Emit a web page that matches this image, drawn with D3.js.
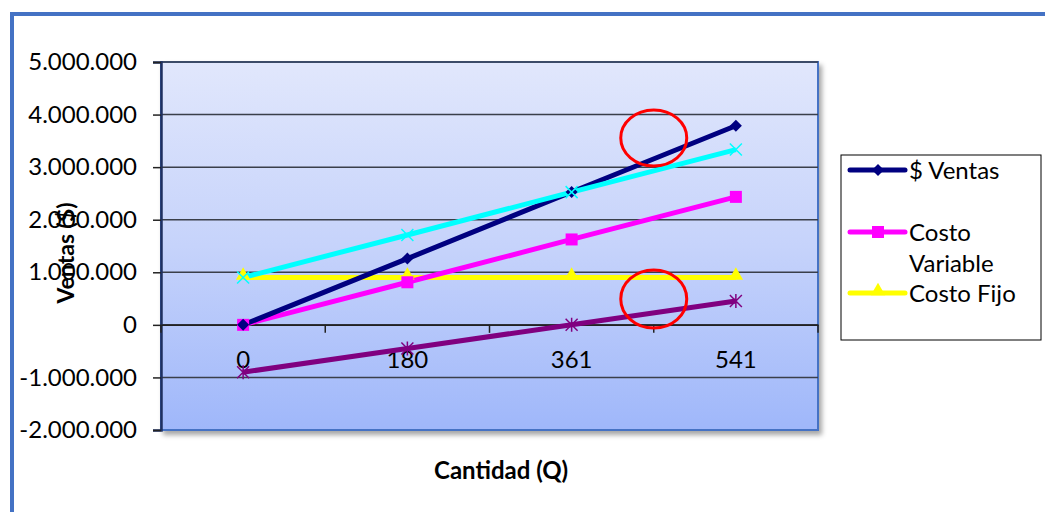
<!DOCTYPE html>
<html><head><meta charset="utf-8">
<script src="https://cdn.jsdelivr.net/npm/d3@7"></script>
<style>body{margin:0;background:#fff;} svg{display:block;}</style>
</head><body>
<svg id="c" width="1045" height="512"></svg>
<script>
const categories = ["0", "180", "361", "541"];
const ventas = [0, 1260000, 2527000, 3787000];
const costoVariable = [0, 810000, 1624500, 2434500];
const costoFijo = [900000, 900000, 900000, 900000];
const costoTotal = [900000, 1710000, 2524500, 3334500];
const utilidad = [-900000, -450000, 2500, 452500];
const yTicks = [-2000000, -1000000, 0, 1000000, 2000000, 3000000, 4000000, 5000000];
const legendLabels = [["$ Ventas"], ["Costo", "Variable"], ["Costo Fijo"]];

const svg = d3.select("#c");
const font = "Lato, 'Open Sans', sans-serif";
const L = 161, R = 818, T = 62, B = 430;

const defs = svg.append("defs");
const g = defs.append("linearGradient").attr("id", "bg").attr("x1", 0).attr("x2", 0).attr("y1", 0).attr("y2", 1);
g.append("stop").attr("offset", "0%").attr("stop-color", "#e1e7fc");
g.append("stop").attr("offset", "50%").attr("stop-color", "#c6d3fb");
g.append("stop").attr("offset", "100%").attr("stop-color", "#9fb7fa");
const f = defs.append("filter").attr("id", "sh").attr("x", "-5%").attr("y", "-5%").attr("width", "115%").attr("height", "115%");
f.append("feDropShadow").attr("dx", 3).attr("dy", 4).attr("stdDeviation", 2.5).attr("flood-color", "#000").attr("flood-opacity", 0.35);

// outer frame
svg.append("rect").attr("x", 12).attr("y", 14).attr("width", 1100).attr("height", 600)
  .attr("fill", "none").attr("stroke", "#4472c4").attr("stroke-width", 4);

const x = d3.scaleBand().domain(categories).range([L, R]);
const y = d3.scaleLinear().domain([-2000000, 5000000]).range([B, T]);

// plot area
svg.append("rect").attr("x", L).attr("y", T).attr("width", R - L).attr("height", B - T)
  .attr("fill", "url(#bg)").attr("stroke", "#4472c4").attr("stroke-width", 2).attr("filter", "url(#sh)");

// gridlines
svg.append("g").selectAll("line").data(yTicks.filter(d => d !== -2000000)).join("line")
  .attr("x1", L).attr("x2", R).attr("y1", d => y(d)).attr("y2", d => y(d))
  .attr("stroke", "#3a3f4a").attr("stroke-width", 1.5);

// y axis
const fmt = d => d3.format(",")(d).replace(/,/g, ".").replace("−", "-");
const yAxis = svg.append("g").attr("transform", `translate(${L},0)`)
  .call(d3.axisLeft(y).tickValues(yTicks).tickSize(8).tickPadding(16).tickFormat(fmt));
yAxis.select(".domain").attr("stroke", "#1f3060").attr("stroke-width", 2.5);
yAxis.selectAll(".tick line").attr("stroke", "#222").attr("stroke-width", 1.5);
yAxis.selectAll("text").attr("font-family", font).attr("font-size", 24).attr("fill", "#000");

// x axis at y=0
const xAxis = svg.append("g").attr("transform", `translate(0,${y(0)})`)
  .call(d3.axisBottom(x).tickSize(0).tickFormat(""));
xAxis.select(".domain").attr("stroke", "#222").attr("stroke-width", 1.5);
const bounds = categories.map(c => x(c)).concat([R]);
xAxis.selectAll("line.tk").data(bounds).join("line").attr("class", "tk")
  .attr("x1", d => d).attr("x2", d => d).attr("y1", 0).attr("y2", 8)
  .attr("stroke", "#222").attr("stroke-width", 1.5);
svg.append("g").selectAll("text").data(categories).join("text")
  .attr("x", d => x(d) + x.bandwidth() / 2).attr("y", y(0) + 43)
  .attr("text-anchor", "middle").attr("font-family", font).attr("font-size", 24).text(d => d);

// series
const cx = i => x(categories[i]) + x.bandwidth() / 2;
const series = [
  {v: costoFijo, c: "#ffff00", m: "tri"},
  {v: costoVariable, c: "#ff00ff", m: "sq"},
  {v: ventas, c: "#000080", m: "dia"},
  {v: costoTotal, c: "#00ffff", m: "x"},
  {v: utilidad, c: "#800080", m: "star"}
];
const line = d3.line().x((d, i) => cx(i)).y(d => y(d));
series.forEach(s => {
  svg.append("path").attr("d", line(s.v)).attr("fill", "none").attr("stroke", s.c).attr("stroke-width", 5);
});
function marker(sel, m, c, px, py) {
  if (m === "tri") sel.append("path").attr("d", d3.symbol(d3.symbolTriangle, 90)()).attr("transform", `translate(${px},${py - 2})`).attr("fill", c);
  else if (m === "sq") sel.append("rect").attr("x", px - 6).attr("y", py - 6).attr("width", 12).attr("height", 12).attr("fill", c);
  else if (m === "dia") sel.append("path").attr("d", "M0,-6L6,0L0,6L-6,0Z").attr("transform", `translate(${px},${py})`).attr("fill", c);
  else if (m === "x") sel.append("path").attr("d", "M-6,-6L6,6M-6,6L6,-6").attr("transform", `translate(${px},${py})`).attr("stroke", c).attr("stroke-width", 1.5);
  else if (m === "star") sel.append("path").attr("d", "M-6,-6L6,6M-6,6L6,-6M0,-7L0,7").attr("transform", `translate(${px},${py})`).attr("stroke", c).attr("stroke-width", 1.5);
}
series.forEach(s => {
  const gg = svg.append("g");
  s.v.forEach((d, i) => marker(gg, s.m, s.c, cx(i), y(d)));
});

// red circles
svg.append("ellipse").attr("cx", x(categories[3])).attr("cy", 138).attr("rx", 33).attr("ry", 28)
  .attr("fill", "none").attr("stroke", "#ff0000").attr("stroke-width", 3);
svg.append("ellipse").attr("cx", x(categories[3])).attr("cy", 299).attr("rx", 33).attr("ry", 29)
  .attr("fill", "none").attr("stroke", "#ff0000").attr("stroke-width", 3);

// axis titles
svg.append("text").attr("transform", "translate(74,253) rotate(-90)").attr("text-anchor", "middle")
  .attr("font-family", font).attr("font-weight", "bold").attr("font-size", 23).text("Ventas ($)");
svg.append("text").attr("x", 501).attr("y", 479).attr("text-anchor", "middle")
  .attr("font-family", font).attr("font-weight", "bold").attr("font-size", 24).text("Cantidad (Q)");

// legend
svg.append("rect").attr("x", 841).attr("y", 155).attr("width", 200).attr("height", 185)
  .attr("fill", "#fff").attr("stroke", "#000").attr("stroke-width", 1);
const legY = [170, 232, 293];
series.slice(0, 3).reverse().forEach((s, i) => {
  const gy = legY[i];
  svg.append("line").attr("x1", 850).attr("x2", 905).attr("y1", gy).attr("y2", gy)
    .attr("stroke", s.c).attr("stroke-width", 5).attr("stroke-linecap", "round");
  marker(svg, s.m, s.c, 878, gy);
  legendLabels[i].forEach((t, j) => {
    svg.append("text").attr("x", 909).attr("y", gy + 9 + j * 31).attr("font-family", font)
      .attr("font-size", 24).text(t);
  });
});
</script>
</body></html>
